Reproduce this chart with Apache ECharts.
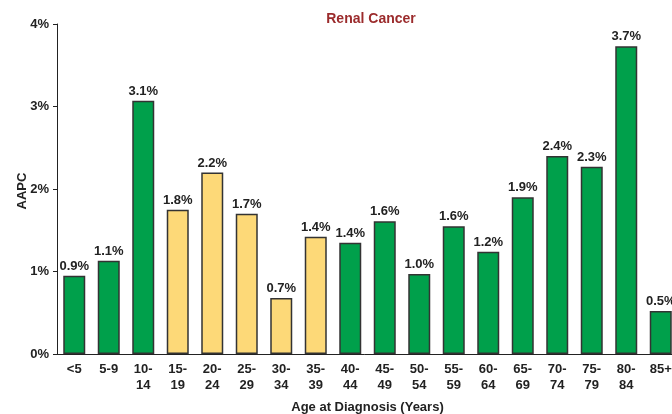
<!DOCTYPE html>
<html>
<head>
<meta charset="utf-8">
<script src="https://cdn.jsdelivr.net/npm/echarts@6/dist/echarts.min.js"></script>
<style>
	html, body { margin: 0; padding: 0; background: #fff; }
	#chart { width: 672px; height: 414px; }
</style>
</head>
<body>
<div id="chart"></div>
<script>
	// 年龄组
	var ageGroups = ['<5', '5-9', '10-\n14', '15-\n19', '20-\n24', '25-\n29', '30-\n34', '35-\n39', '40-\n44',
		'45-\n49', '50-\n54', '55-\n59', '60-\n64', '65-\n69', '70-\n74', '75-\n79', '80-\n84', '85+'];
	// AAPC 数值 (%)
	var aapcValues = [0.95, 1.13, 3.07, 1.75, 2.2, 1.7, 0.68, 1.42, 1.35, 1.61, 0.97, 1.55, 1.24, 1.9, 2.4, 2.27, 3.73, 0.52];
	var aapcLabels = ['0.9%', '1.1%', '3.1%', '1.8%', '2.2%', '1.7%', '0.7%', '1.4%', '1.4%', '1.6%', '1.0%', '1.6%',
		'1.2%', '1.9%', '2.4%', '2.3%', '3.7%', '0.5%'];
	// 黄色柱子 (15-39岁)
	var yellowGroups = [3, 4, 5, 6, 7];
	var yTicks = ['0%', '1%', '2%', '3%', '4%'];

	var font = '"Liberation Sans Narrow", "Liberation Sans", Arial, sans-serif';
	var green = '#00a04b';
	var yellow = '#fdd978';

	var chart = echarts.init(document.getElementById('chart'));
	chart.setOption({
		animation: false,
		title: {
			text: 'Renal Cancer',
			left: 366,
			top: 7,
			textAlign: 'center',
			textStyle: { color: '#9b2b2c', fontSize: 14, fontWeight: 'bold', fontFamily: font }
		},
		// Y轴标题 (AAPC)
		graphic: [{
			type: 'text',
			x: 22,
			y: 191,
			rotation: Math.PI / 2,
			style: {
				text: 'AAPC',
				fill: '#222',
				font: 'bold 13px ' + font,
				align: 'center',
				verticalAlign: 'middle'
			}
		}],
		grid: { left: 57, right: -6, top: 24, bottom: 60, containLabel: false, outerBoundsMode: 'none' },
		xAxis: {
			type: 'category',
			data: ageGroups,
			name: 'Age at Diagnosis (Years)',
			nameLocation: 'middle',
			nameGap: 47,
			nameTextStyle: { color: '#222', fontSize: 13, fontWeight: 'bold', fontFamily: font },
			axisLine: { lineStyle: { color: '#222', width: 1 } },
			axisTick: { alignWithLabel: false, length: 4, lineStyle: { color: '#999' } },
			axisLabel: { interval: 0, color: '#222', fontSize: 13, fontWeight: 'bold', fontFamily: font, lineHeight: 16, margin: 7 }
		},
		yAxis: {
			type: 'value',
			min: 0,
			max: 4,
			interval: 1,
			axisLine: { show: true, lineStyle: { color: '#222', width: 1 } },
			axisTick: { show: true, length: 4, lineStyle: { color: '#222' } },
			splitLine: { show: false },
			axisLabel: {
				color: '#222', fontSize: 13, fontWeight: 'bold', fontFamily: font, margin: 8,
				formatter: function(v) { return yTicks[Math.round(v)]; }
			}
		},
		series: [{
			type: 'bar',
			barWidth: 22,
			data: aapcValues.map(function(v, i) {
				return {
					value: v,
					itemStyle: { color: yellowGroups.indexOf(i) >= 0 ? yellow : green }
				};
			}),
			itemStyle: { borderColor: '#333', borderWidth: 1.5 },
			label: {
				show: true,
				position: 'top',
				distance: 3,
				color: '#222',
				fontSize: 13,
				fontWeight: 'bold',
				fontFamily: font,
				formatter: function(p) { return aapcLabels[p.dataIndex]; }
			}
		}]
	});
</script>
</body>
</html>
